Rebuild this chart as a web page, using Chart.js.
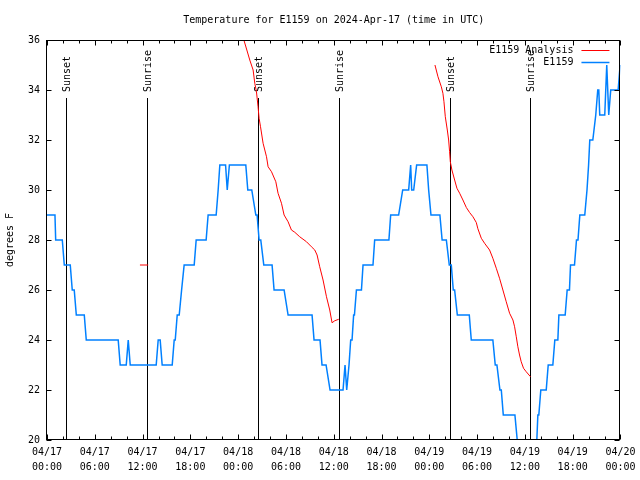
<!DOCTYPE html>
<html>
<head>
<meta charset="utf-8">
<title>Temperature for E1159</title>
<script src="https://cdn.jsdelivr.net/npm/chart.js@4.4.1/dist/chart.umd.min.js"></script>
<style>
  html, body { margin: 0; padding: 0; background: #fff; }
  canvas { display: block; }
</style>
</head>
<body>
<canvas id="chart" width="640" height="480"></canvas>
<script>
const titleText = 'Temperature for E1159 on 2024-Apr-17 (time in UTC)';
const dayLabels = ['04/17', '04/18', '04/19', '04/20'];

// observations: hours since 04/17 00:00 UTC, degrees F
const obsHours = [0, 1.0, 1.09, 1.92, 2.17, 2.92, 3.17, 3.42, 3.68, 4.68, 4.93, 8.94, 9.19, 9.95, 10.2, 10.45,
  13.71, 13.96, 14.21, 14.46, 15.72, 15.97, 16.1, 16.35, 16.6, 16.9, 17.22, 18.48, 18.73, 19.98, 20.23, 21.24,
  21.49, 21.7, 22.42, 22.63, 22.9, 24.96, 25.21, 25.71, 26.22, 26.38, 26.63, 26.84, 27.22, 28.26, 28.51, 29.77,
  30.27, 33.28, 33.53, 34.28, 34.53, 35.04, 35.54, 37.17, 37.42, 37.63, 37.92, 38.13, 38.3, 38.5, 38.6, 38.85,
  39.48, 39.68, 40.93, 41.14, 42.93, 43.15, 44.15, 44.66, 45.41, 45.66, 45.79, 46.04, 46.41, 47.7, 47.92, 48.21,
  49.33, 49.61, 50.14, 50.51, 50.76, 51.01, 51.18, 51.52, 53.02, 53.27, 55.98, 56.28, 56.49, 56.87, 57.04, 57.29,
  58.75, 59.04, 59.3, 61.25, 61.5, 61.63, 61.75, 62.0, 62.68, 62.93, 63.51, 63.76, 64.14, 64.27, 65.06, 65.31,
  65.6, 65.73, 66.23, 66.48, 66.67, 66.9, 67.52, 67.8, 68.0, 68.15, 68.53, 68.9, 69.15, 69.28, 69.4, 70.03,
  70.28, 70.53, 70.78, 71.71, 71.96, 72];
const obsTemps = [29, 29, 28, 28, 27, 27, 26, 26, 25, 25, 24, 24, 23, 23, 24, 23,
  23, 24, 24, 23, 23, 24, 24, 25, 25, 26, 27, 27, 28, 28, 29, 29,
  30, 31, 31, 30, 31, 31, 30, 30, 29, 29, 28, 28, 27, 27, 26, 26,
  25, 25, 24, 24, 23, 23, 22, 22, 23, 22, 23, 24, 24, 25, 25, 26,
  26, 27, 27, 28, 28, 29, 29, 30, 30, 31, 30, 30, 31, 31, 30, 29,
  29, 28, 28, 27, 27, 26, 26, 25, 25, 24, 24, 23, 23, 22, 22, 21,
  21, 20, 19, 19, 20, 21, 21, 22, 22, 23, 23, 24, 24, 25, 25, 26,
  26, 27, 27, 28, 28, 29, 29, 30, 31, 32, 32, 33, 34, 34, 33, 33,
  35, 33, 34, 34, 35, 35];

// analysis, null marks a gap
const anaHours = [11.67, 12.7, 12.7,
  24.72, 25.46, 25.88, 26.09, 26.3, 26.5, 26.63, 26.81, 27.13, 27.56, 27.76, 28.19, 28.73, 29.01, 29.44, 29.77,
  30.27, 30.69, 31.11, 31.73, 32.58, 33.2, 33.62, 33.91, 34.24, 34.66, 35.09, 35.5, 35.79, 36.13, 36.63, 36.63,
  48.71, 49.09, 49.51, 49.71, 49.84, 50.01, 50.26, 50.43, 50.55, 50.64, 50.84, 51.18, 51.47, 51.81, 52.22, 52.65,
  53.06, 53.48, 53.9, 54.1, 54.53, 54.94, 55.57, 55.98, 56.41, 56.82, 57.24, 57.66, 58.08, 58.5, 58.71, 58.92,
  59.12, 59.33, 59.54, 59.83, 60.17, 60.71];
const anaTemps = [27, 27, null,
  36.0, 35.2, 34.8, 34.27, 33.93, 33.33, 32.87, 32.53, 31.87, 31.33, 30.93, 30.73, 30.33, 29.87, 29.47, 29.0,
  28.73, 28.4, 28.31, 28.13, 27.93, 27.73, 27.6, 27.4, 26.93, 26.4, 25.73, 25.2, 24.69, 24.77, 24.83, null,
  35.0, 34.53, 34.13, 33.87, 33.53, 32.93, 32.4, 32.0, 31.53, 31.13, 30.8, 30.4, 30.07, 29.87, 29.6, 29.3,
  29.1, 28.93, 28.7, 28.45, 28.07, 27.87, 27.6, 27.27, 26.87, 26.47, 26.0, 25.53, 25.07, 24.8, 24.53, 24.13,
  23.73, 23.4, 23.13, 22.87, 22.73, 22.53];

const sunHours = [2.42, 12.58, 26.5, 36.67, 50.59, 60.62];
const sunLabels = ['Sunset', 'Sunrise', 'Sunset', 'Sunrise', 'Sunset', 'Sunrise'];

const MONO = '"DejaVu Sans Mono", monospace';
const FONT = '10px ' + MONO;

const pts = (xs, ys) => xs.map((h, i) => ({ x: h, y: ys[i] }));

// frame, inward ticks, sun lines, title and legend in gnuplot style
const decor = {
  id: 'decor',
  beforeDatasetsDraw(chart) {
    const { ctx, chartArea: a, scales: { x } } = chart;
    ctx.save();
    ctx.strokeStyle = '#000';
    ctx.fillStyle = '#000';
    ctx.lineWidth = 1;
    ctx.font = FONT;
    sunHours.forEach((h, i) => {
      const px = Math.round(x.getPixelForValue(h)) + 0.5;
      ctx.beginPath();
      ctx.moveTo(px, a.top + 58);
      ctx.lineTo(px, a.bottom);
      ctx.stroke();
      ctx.save();
      ctx.translate(px + 1, a.top + 52);
      ctx.rotate(-Math.PI / 2);
      ctx.textAlign = 'left';
      ctx.textBaseline = 'middle';
      ctx.fillText(sunLabels[i], 0, 0);
      ctx.restore();
    });
    ctx.restore();
  },
  afterDatasetsDraw(chart) {
    const { ctx, chartArea: a, scales: { x, y } } = chart;
    ctx.save();
    ctx.strokeStyle = '#000';
    ctx.fillStyle = '#000';
    ctx.lineWidth = 1;
    const L = Math.round(a.left) - 0.5, R = Math.round(a.right) - 0.5;
    const T = Math.round(a.top) + 0.5, B = Math.round(a.bottom) - 0.5;
    ctx.strokeRect(L, T, R - L, B - T);

    ctx.beginPath();
    for (let h = 0; h <= 72; h += 2) {
      const px = Math.round(x.getPixelForValue(h)) + 0.5;
      const len = h % 6 === 0 ? 5 : 3;
      ctx.moveTo(px, B); ctx.lineTo(px, B - len);
      ctx.moveTo(px, T); ctx.lineTo(px, T + len);
    }
    for (let v = 20; v <= 36; v += 2) {
      const py = Math.round(y.getPixelForValue(v)) + 0.5;
      ctx.moveTo(L, py); ctx.lineTo(L + 5, py);
      ctx.moveTo(R, py); ctx.lineTo(R - 5, py);
    }
    ctx.stroke();

    ctx.font = FONT;
    ctx.textAlign = 'center';
    ctx.textBaseline = 'middle';
    ctx.fillText(titleText, (a.left + a.right) / 2, 20);

    ctx.textAlign = 'right';
    chart.data.datasets.forEach((ds, i) => {
      const ly = a.top + 10.5 + i * 12;
      ctx.fillStyle = '#000';
      ctx.fillText(ds.label, a.right - 47, ly);
      ctx.strokeStyle = ds.borderColor;
      ctx.lineWidth = ds.borderWidth;
      ctx.beginPath();
      ctx.moveTo(a.right - 39, ly);
      ctx.lineTo(a.right - 11, ly);
      ctx.stroke();
    });
    ctx.restore();
  }
};

Chart.defaults.color = '#000';
Chart.defaults.font.family = MONO;
Chart.defaults.font.size = 10;

new Chart(document.getElementById('chart'), {
  type: 'line',
  data: {
    datasets: [
      {
        label: 'E1159 Analysis',
        data: pts(anaHours, anaTemps),
        borderColor: '#ff0000',
        borderWidth: 1,
        pointRadius: 0,
        tension: 0,
        spanGaps: false
      },
      {
        label: 'E1159',
        data: pts(obsHours, obsTemps),
        borderColor: '#0080ff',
        borderWidth: 1.5,
        pointRadius: 0,
        tension: 0
      }
    ]
  },
  options: {
    responsive: false,
    animation: false,
    devicePixelRatio: 1,
    layout: { padding: { top: 40, right: 19, left: 0, bottom: 0 } },
    plugins: {
      legend: { display: false },
      title: { display: false },
      tooltip: { enabled: false }
    },
    scales: {
      x: {
        type: 'linear',
        min: 0,
        max: 72,
        grid: { display: false, drawTicks: false },
        border: { display: false },
        ticks: {
          stepSize: 6,
          padding: 4.5,
          maxRotation: 0,
          autoSkip: false,
          font: { size: 10, lineHeight: 1.5 },
          callback: v => [dayLabels[Math.floor(v / 24)], String(v % 24).padStart(2, '0') + ':00']
        },
        afterFit: s => { s.height = 40; }
      },
      y: {
        min: 20,
        max: 36,
        grid: { display: false, drawTicks: false },
        border: { display: false },
        ticks: { stepSize: 2, padding: 7 },
        title: { display: true, text: 'degrees F', padding: { top: 4, bottom: 0 } },
        afterFit: s => { s.width = 47; }
      }
    }
  },
  plugins: [decor]
});
</script>
</body>
</html>
